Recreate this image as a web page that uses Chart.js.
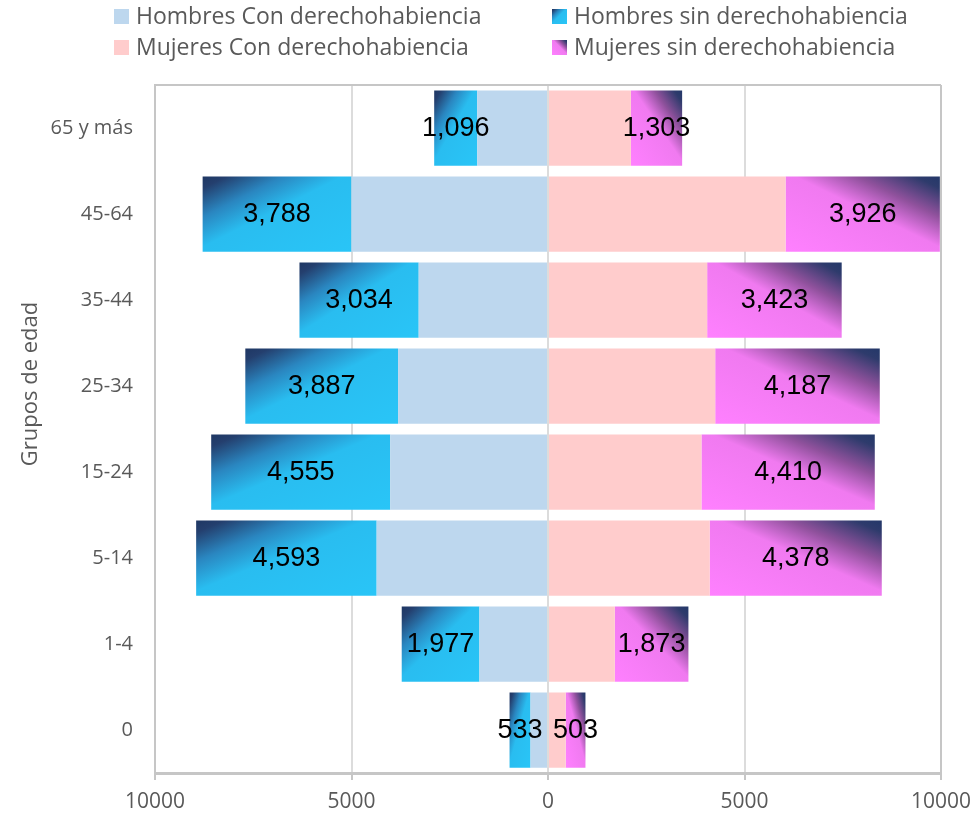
<!DOCTYPE html>
<html>
<head>
<meta charset="utf-8">
<script src="https://cdn.jsdelivr.net/npm/chart.js@4.4.1/dist/chart.umd.min.js"></script>
<style>
  html, body { margin: 0; padding: 0; background: #fff; }
  #wrap { width: 974px; height: 815px; position: relative; }
</style>
</head>
<body>
<div id="wrap"><canvas id="piramide"></canvas></div>
<script>
const grupos = ['65 y más', '45-64', '35-44', '25-34', '15-24', '5-14', '1-4', '0'];
const hombresCon = [1800, 5000, 3290, 3815, 4015, 4360, 1745, 445];
const hombresSin = [1096, 3788, 3034, 3887, 4555, 4593, 1977, 533];
const mujeresCon = [2110, 6045, 4050, 4255, 3905, 4115, 1700, 450];
const mujeresSin = [1303, 3926, 3423, 4187, 4410, 4378, 1873, 503];
const ejeTicks = [-10000, -5000, 0, 5000, 10000];

const nombres = ['Hombres Con derechohabiencia', 'Hombres sin derechohabiencia',
                 'Mujeres Con derechohabiencia', 'Mujeres sin derechohabiencia'];

const BAR_PCT = 0.875;
const gris = '#595959';
const stopsAzul = [[0, '#1f3763'], [0.08, '#243f6e'], [0.27, '#2a86c0'], [0.47, '#29bdf0'], [1, '#29c5f7']];
const stopsRosa = [[0, '#233869'], [0.08, '#2e3b6c'], [0.27, '#8f519c'], [0.47, '#f07af0'], [1, '#ff80ff']];

// gradiente diagonal escalado con la forma (como en Excel)
function diagGradient(c, l, t, w, h, fromRight, stops) {
  const k = 2 * w * h / (w * w + h * h);
  const g = fromRight
    ? c.createLinearGradient(l + w, t, l + w - k * h, t + k * w)
    : c.createLinearGradient(l, t, l + k * h, t + k * w);
  stops.forEach(s => g.addColorStop(s[0], s[1]));
  return g;
}

function sinColor(stops, fromRight, fallback) {
  return function (ctx) {
    const chart = ctx.chart;
    const xs = chart.scales.x, ys = chart.scales.y;
    if (ctx.dataIndex === undefined || !xs || !ys) return fallback;
    const i = ctx.dataIndex;
    const inner = chart.data.datasets[ctx.datasetIndex - 1].data[i];
    const outer = inner + ctx.raw;
    const xa = xs.getPixelForValue(inner), xb = xs.getPixelForValue(outer);
    const h = (ys.getPixelForValue(1) - ys.getPixelForValue(0)) * BAR_PCT;
    const t = ys.getPixelForValue(i) - h / 2;
    if (![xa, xb, h, t].every(Number.isFinite) || h <= 0) return fallback;
    const l = Math.min(xa, xb), w = Math.max(Math.abs(xb - xa), 1);
    return diagGradient(chart.ctx, l, t, w, h, fromRight, stops);
  };
}

const etiquetas = {
  id: 'etiquetas',
  afterDatasetsDraw(chart) {
    const c = chart.ctx;
    c.save();
    c.font = '27px "Liberation Sans", Arial, sans-serif';
    c.fillStyle = '#000';
    c.textAlign = 'center';
    c.textBaseline = 'middle';
    [1, 3].forEach(d => {
      chart.getDatasetMeta(d).data.forEach((el, i) => {
        const p = el.getCenterPoint();
        const v = Math.abs(chart.data.datasets[d].data[i]);
        c.fillText(v.toLocaleString('en-US'), p.x, p.y + 1);
      });
    });
    c.restore();
  },
  afterDraw(chart) {
    const c = chart.ctx;
    c.save();
    // leyenda en dos columnas
    const cols = [114, 552], rows = [9, 40];
    const fills = ['#bdd7ee', null, '#ffcccc', null];
    c.font = '23px "Open Sans"';
    c.textBaseline = 'middle';
    c.textAlign = 'left';
    nombres.forEach((n, k) => {
      const bx = cols[k % 2], by = rows[Math.floor(k / 2)];
      let f = fills[k];
      if (!f) f = diagGradient(c, bx, by, 15, 15, k === 3, k === 3 ? stopsRosa : stopsAzul);
      c.fillStyle = f;
      c.fillRect(bx, by, 15, 15);
      c.fillStyle = gris;
      c.fillText(n, bx + 22, by + 8);
    });
    // título del eje vertical
    c.font = '22px "Open Sans"';
    c.translate(31, 384);
    c.rotate(-Math.PI / 2);
    c.textAlign = 'center';
    c.fillText('Grupos de edad', 0, 0);
    c.restore();
  }
};

new Chart(document.getElementById('piramide'), {
  type: 'bar',
  data: {
    labels: grupos,
    datasets: [
      { label: nombres[0], data: hombresCon.map(v => -v), backgroundColor: '#bdd7ee' },
      { label: nombres[1], data: hombresSin.map(v => -v), backgroundColor: sinColor(stopsAzul, false, '#29c5f7') },
      { label: nombres[2], data: mujeresCon, backgroundColor: '#ffcccc' },
      { label: nombres[3], data: mujeresSin, backgroundColor: sinColor(stopsRosa, true, '#ff80ff') }
    ]
  },
  options: {
    indexAxis: 'y',
    responsive: true,
    maintainAspectRatio: false,
    animation: false,
    layout: { padding: { top: 85, right: 33, left: 0, bottom: 0 } },
    datasets: { bar: { barPercentage: BAR_PCT, categoryPercentage: 1, borderWidth: 0 } },
    plugins: {
      legend: { display: false },
      tooltip: { enabled: false }
    },
    scales: {
      x: {
        stacked: true,
        min: -10000,
        max: 10000,
        afterBuildTicks: s => { s.ticks = ejeTicks.map(v => ({ value: v })); },
        afterFit: s => { s.height = 42; s.paddingRight = 0; s.paddingLeft = 0; },
        ticks: {
          callback: v => String(Math.abs(v)),
          color: gris,
          font: { size: 21, family: 'Open Sans' },
          padding: 9,
          maxRotation: 0
        },
        grid: {
          color: c => (c.index === 0 || c.index === 4) ? '#c6c6c6' : '#dcdcdc',
          lineWidth: 2,
          tickLength: 7,
          tickColor: '#c6c6c6'
        },
        border: { display: true, color: '#c6c6c6', width: 3 }
      },
      y: {
        stacked: true,
        afterFit: s => { s.width = 155; },
        ticks: {
          color: gris,
          font: { size: 20, family: 'Open Sans' },
          padding: 22
        },
        grid: {
          offset: true,
          drawTicks: false,
          color: c => c.index === 0 ? '#c6c6c6' : 'rgba(0,0,0,0)',
          lineWidth: 2
        },
        border: { display: true, color: '#c6c6c6', width: 2 }
      }
    }
  },
  plugins: [etiquetas]
});
</script>
</body>
</html>
